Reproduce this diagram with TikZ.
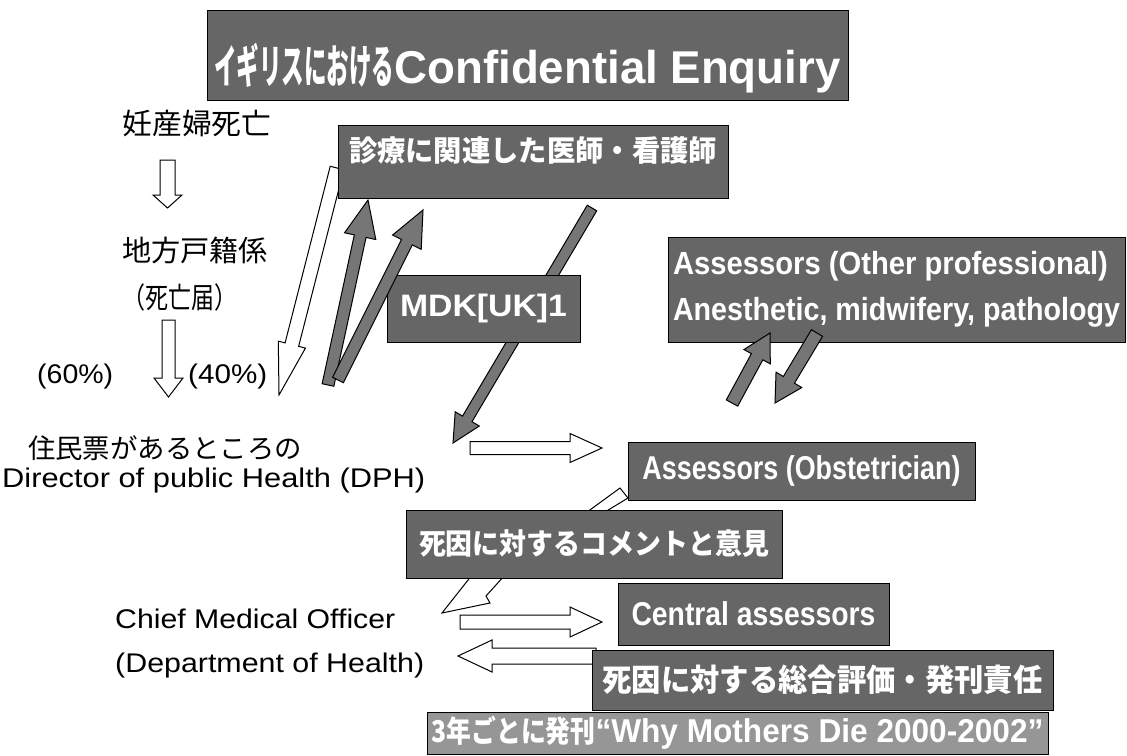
\documentclass[tikz,border=0pt]{standalone}
\usepackage{fontspec}
\setmainfont{Liberation Sans}
\newfontfamily\jp{Noto Sans CJK JP}
\usetikzlibrary{calc}
\definecolor{boxgray}{RGB}{102,102,102}
\definecolor{lightgray2}{RGB}{150,150,150}
\definecolor{arrowgray}{RGB}{118,118,118}
\newcommand{\fitt}[3]{{\fontsize{#1}{#1}\selectfont\resizebox{#2}{\height}{#3}}}
% block arrow: tail, tip, shaft half width, head half width, head length, style
\newcommand{\barrow}[6]{%
  \coordinate (bh) at ($(#2)!#5!(#1)$);
  \path[#6] ($(#1)!#3!90:(#2)$) -- ($(bh)!#3!90:(#2)$) -- ($(bh)!#4!90:(#2)$) -- (#2)
    -- ($(bh)!#4!-90:(#2)$) -- ($(bh)!#3!-90:(#2)$) -- ($(#1)!#3!-90:(#2)$) -- cycle;}
\begin{document}
\begin{tikzpicture}[x=1pt,y=-1pt,
  gbox/.style={draw=black, line width=1pt, fill=boxgray, text=white, inner sep=0pt, font=\bfseries},
  lbox/.style={gbox, fill=lightgray2},
  plain/.style={inner sep=0pt, text=black},
  warrow/.style={draw=black, line width=1pt, fill=white},
  darrow/.style={draw=black, line width=1pt, fill=arrowgray},
  tailshape/.style={draw=black, line width=1pt, fill=white}]
\useasboundingbox[fill=white] (0,0) rectangle (1127,755);

% plain texts
\node[plain] (ninsan) at (197,124) {\fitt{29pt}{149pt}{\jp 妊産婦死亡}};
\node[plain] (chiho) at (195,250) {\fitt{29pt}{146pt}{\jp 地方戸籍係}};
\node[plain] (todoke) at (180,297) {\fitt{29pt}{115pt}{\jp （死亡届）}};
\node[plain, anchor=base west] (p60) at (37,383) {\fitt{27pt}{76pt}{(60\%)}};
\node[plain, anchor=base west] (p40) at (188,383) {\fitt{27pt}{79pt}{(40\%)}};
\node[plain] (jumin) at (165,448) {\fitt{27pt}{274pt}{\jp 住民票があるところの}};
\node[plain, anchor=base west] (dph) at (2,487) {\fitt{27pt}{423pt}{Director of public Health (DPH)}};
\node[plain, anchor=base west] (cmo) at (115,628) {\fitt{27pt}{280pt}{Chief Medical Officer}};
\node[plain, anchor=base west] (doh) at (115,672) {\fitt{27pt}{309pt}{(Department of Health)}};

% arrow end points
\coordinate (a1s) at (167.5,160); \coordinate (a1e) at (167.5,208);
\coordinate (a2s) at (168.5,320); \coordinate (a2e) at (168.5,397);
\coordinate (w1s) at (337,168);   \coordinate (w1e) at (279,395);
\coordinate (d1s) at (328,385);   \coordinate (d1e) at (368,200);
\coordinate (d2s) at (338,380);   \coordinate (d2e) at (423,210);
\coordinate (d3s) at (592,208);   \coordinate (d3e) at (453,443);
\coordinate (d4s) at (732,403);   \coordinate (d4e) at (770,333);
\coordinate (d5s) at (817,333);   \coordinate (d5e) at (775,403);
\coordinate (h1s) at (470,448);   \coordinate (h1e) at (602,448);
\coordinate (h2s) at (460,622);   \coordinate (h2e) at (602,622);
\coordinate (h3s) at (596,656);   \coordinate (h3e) at (458,656);

% arrows drawn beneath the boxes
\barrow{a1s}{a1e}{7.5pt}{14.5pt}{13pt}{warrow}
\barrow{a2s}{a2e}{6.5pt}{14.5pt}{19pt}{warrow}
\barrow{w1s}{w1e}{7pt}{14pt}{52pt}{warrow}
\barrow{d3s}{d3e}{5.5pt}{14pt}{28pt}{darrow}
\barrow{h3s}{h3e}{8pt}{16pt}{34pt}{warrow}

% callout tails
\path[tailshape] (583,515) -- (620,488) -- (628,498) -- (600,515) -- cycle;
\path[tailshape] (472,575) -- (442,613) -- (490,603) -- (486,596) -- (505,575) -- cycle;

% boxes
\node[gbox, minimum width=641pt, minimum height=90pt] (title) at (527.5,55)
  {\rule{0pt}{66pt}\fitt{46pt}{180pt}{\jp イギリスにおける}\fitt{46pt}{446pt}{Confidential Enquiry}};
\node[gbox, minimum width=390pt, minimum height=73pt] (shinryo) at (533,161.5)
  {\rule[-25pt]{0pt}{25pt}\fitt{29pt}{368pt}{\jp 診療に関連した医師・看護師}};
\node[gbox, minimum width=193pt, minimum height=67pt] (mdk) at (483.5,308.5)
  {\fitt{31pt}{167pt}{MDK[UK]1}};
\node[gbox, minimum width=457pt, minimum height=105pt, align=left,
  font=\bfseries\fontsize{32pt}{46pt}\selectfont] (other) at (896.5,289.5)
  {\fitt{32pt}{435pt}{Assessors (Other professional)}\\\fitt{32pt}{447pt}{Anesthetic, midwifery, pathology}};
\node[gbox, minimum width=347pt, minimum height=58pt] (obst) at (801.5,471)
  {\fitt{33pt}{318pt}{Assessors (Obstetrician)}};
\node[gbox, minimum width=376pt, minimum height=68pt] (comment) at (594,544)
  {\fitt{29pt}{350pt}{\jp 死因に対するコメントと意見}};
\node[gbox, minimum width=271pt, minimum height=62pt] (central) at (753.5,614)
  {\fitt{33pt}{244pt}{Central assessors}};
\node[gbox, minimum width=461pt, minimum height=60pt] (sogo) at (822.5,680)
  {\fitt{31pt}{440pt}{\jp 死因に対する総合評価・発刊責任}};
\node[lbox, minimum width=621pt, minimum height=42pt] (pub) at (737.5,733)
  {\fitt{30pt}{164pt}{\jp 3年ごとに発刊}\fitt{33pt}{448pt}{“Why Mothers Die 2000-2002”}};

% arrows drawn on top
\barrow{d1s}{d1e}{6pt}{16pt}{37pt}{darrow}
\barrow{d2s}{d2e}{6pt}{16pt}{36pt}{darrow}
\barrow{d4s}{d4e}{6.5pt}{15pt}{27pt}{darrow}
\barrow{d5s}{d5e}{6.5pt}{15pt}{27pt}{darrow}
\barrow{h1s}{h1e}{6.5pt}{14.5pt}{32pt}{warrow}
\barrow{h2s}{h2e}{7pt}{15pt}{32pt}{warrow}
\end{tikzpicture}
\end{document}
